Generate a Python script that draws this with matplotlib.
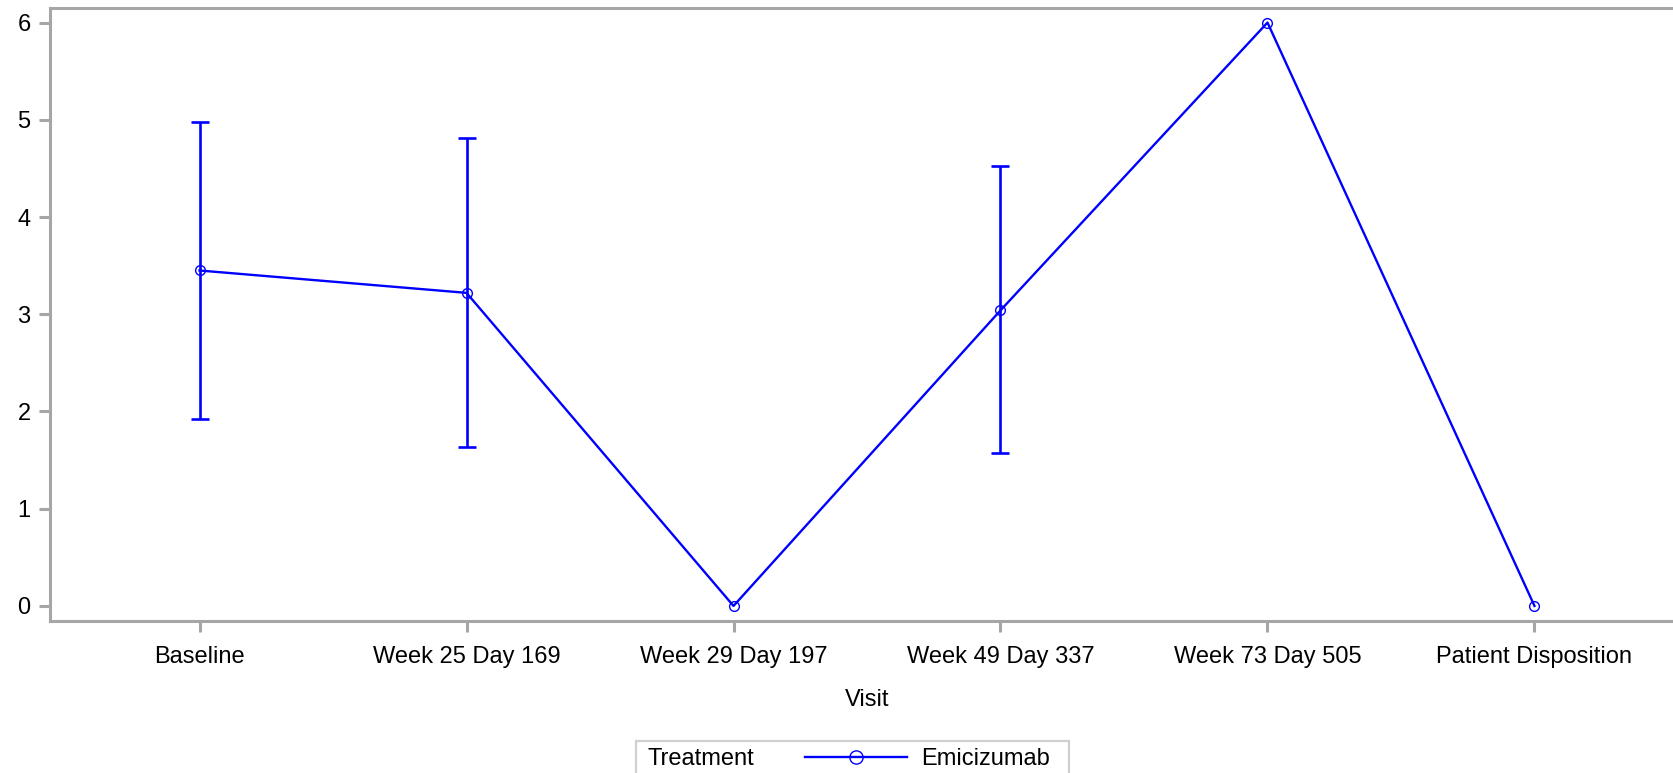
import matplotlib.pyplot as plt
import numpy as np
from matplotlib.lines import Line2D
from matplotlib.patches import Rectangle

# data
visits = ["Baseline", "Week 25 Day 169", "Week 29 Day 197",
          "Week 49 Day 337", "Week 73 Day 505", "Patient Disposition"]
means = [3.45, 3.22, 0.0, 3.04, 6.0, 0.0]
lower = [1.92, 1.63, np.nan, 1.57, np.nan, np.nan]
upper = [4.98, 4.81, np.nan, 4.52, np.nan, np.nan]
legend_title = "Treatment"
group = "Emicizumab"

plt.rcParams['font.family'] = ['Liberation Sans', 'DejaVu Sans']
grey = "#a6a6a6"
blue = "#0000ff"
fs = 17

W, H = 1674, 773
fig = plt.figure(figsize=(W / 100, H / 100), dpi=100)
# axes runs a little past the right edge, like the reference
ax = fig.add_axes([50 / W, 1 - 621 / H, 1634 / W, 613.5 / H])

x = np.arange(len(visits))
m = np.array(means)
lo = np.array(lower)
hi = np.array(upper)
has_err = ~np.isnan(lo)

ax.errorbar(x[has_err], m[has_err],
            yerr=[m[has_err] - lo[has_err], hi[has_err] - m[has_err]],
            fmt="none", ecolor=blue, elinewidth=1.9, capsize=6.5, capthick=1.9)
ax.plot(x, m, color=blue, lw=1.7, marker="o", ms=7, mfc="none", mec=blue, mew=1)

ax.set_xlim(-0.56, 5.56)
ax.set_ylim(-0.155, 6.155)
ax.set_xticks(x)
ax.set_xticklabels(visits)
ax.set_yticks(range(7))

for s in ax.spines.values():
    s.set_color(grey)
    s.set_linewidth(2.2)
ax.tick_params(axis="both", colors=grey, width=2.2, length=8, labelcolor="black",
               labelsize=fs, pad=6)
ax.tick_params(axis="x", pad=10)
ax.set_xlabel("Visit", fontsize=fs, labelpad=15)

# legend box at the bottom: title on the left, then the series entry
fig.patches.append(Rectangle((636 / W, 1 - 775 / H), 433 / W, 34 / H,
                             transform=fig.transFigure, fill=False,
                             edgecolor="#cfcfcf", lw=1.6))
fig.text(648 / W, 1 - 759 / H, legend_title, fontsize=fs, va="center", ha="left")
h = Line2D([], [], color=blue, lw=1.7, marker="o", ms=9.5, mfc="none", mew=1)
fig.legend([h], [group], loc="center left", bbox_to_anchor=(805 / W, 1 - 759 / H),
           frameon=False, fontsize=fs, handlelength=4.3, handletextpad=0.6,
           borderpad=0, borderaxespad=0)

fig.savefig("out.png", dpi=100)
